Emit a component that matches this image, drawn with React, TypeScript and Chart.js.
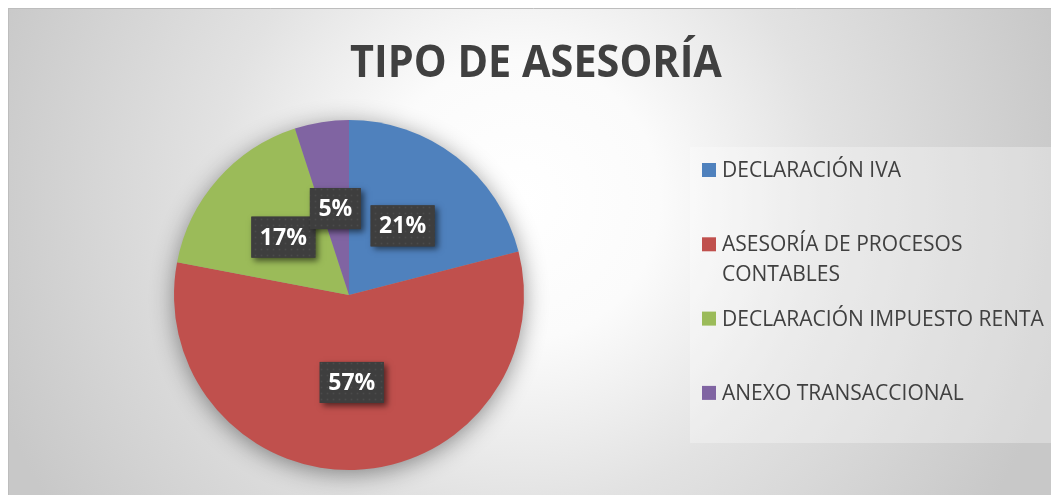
import React, { useEffect, useRef } from "react";
import { Chart, registerables } from "chart.js";

Chart.register(...registerables);

const chartTitle = "TIPO DE ASESORÍA";
const categories = [
  "DECLARACIÓN IVA",
  "ASESORÍA DE PROCESOS CONTABLES",
  "DECLARACIÓN IMPUESTO RENTA",
  "ANEXO TRANSACCIONAL",
];
const percentages = [21, 57, 17, 5];
const sliceColors = ["#4F81BD", "#C0504D", "#9BBB59", "#8064A2"];

const W = 1051;
const H = 487;
const FONT = "'Open Sans', 'Noto Sans', sans-serif";

function makeDotPattern(ctx: CanvasRenderingContext2D) {
  const c = document.createElement("canvas");
  c.width = 6;
  c.height = 6;
  const g = c.getContext("2d")!;
  g.fillStyle = "#3e3e3e";
  g.fillRect(0, 0, 6, 6);
  g.fillStyle = "#4b4b4b";
  g.beginPath();
  g.arc(1.5, 1.5, 1, 0, Math.PI * 2);
  g.fill();
  return ctx.createPattern(c, "repeat");
}

const backgroundPlugin = {
  id: "bgPlugin",
  beforeDraw(chart: any) {
    const { ctx, width, height } = chart;
    ctx.save();
    const g = ctx.createRadialGradient(512, 192, 0, 512, 192, 560);
    g.addColorStop(0, "#ffffff");
    g.addColorStop(0.25, "#fbfbfb");
    g.addColorStop(0.55, "#e2e2e2");
    g.addColorStop(1, "#c8c8c8");
    ctx.fillStyle = g;
    ctx.fillRect(0, 0, width, height);
    ctx.strokeStyle = "#bdbdbd";
    ctx.lineWidth = 1;
    ctx.beginPath();
    ctx.moveTo(0, 0.5);
    ctx.lineTo(width, 0.5);
    ctx.moveTo(0.5, 0);
    ctx.lineTo(0.5, height);
    ctx.stroke();
    // chart title (slightly condensed to match the narrow original face)
    ctx.fillStyle = "#404040";
    ctx.font = `bold 45px ${FONT}`;
    ctx.textAlign = "center";
    ctx.textBaseline = "alphabetic";
    ctx.translate(528, 69);
    ctx.scale(0.92, 1);
    ctx.fillText(chartTitle, 0, 0);
    ctx.restore();
  },
};

const pieShadowPlugin = {
  id: "pieShadow",
  beforeDatasetsDraw(chart: any) {
    const meta = chart.getDatasetMeta(0);
    const arc = meta.data[0];
    if (!arc) return;
    const { x, y, outerRadius } = arc.getProps(["x", "y", "outerRadius"], true);
    const ctx = chart.ctx;
    ctx.save();
    ctx.shadowColor = "rgba(0,0,0,0.45)";
    ctx.shadowBlur = 24;
    ctx.shadowOffsetX = 0;
    ctx.shadowOffsetY = 4;
    ctx.fillStyle = "#999999";
    ctx.beginPath();
    ctx.arc(x, y, outerRadius - 1, 0, Math.PI * 2);
    ctx.fill();
    ctx.restore();
  },
};

const dataLabelPlugin = {
  id: "dataLabels",
  afterDatasetsDraw(chart: any) {
    const ctx = chart.ctx as CanvasRenderingContext2D;
    const ds = chart.data.datasets[0];
    const values = ds.data as number[];
    const total = values.reduce((a, b) => a + b, 0);
    const meta = chart.getDatasetMeta(0);
    const pattern = makeDotPattern(ctx);
    ctx.save();
    ctx.font = `bold 23px ${FONT}`;
    meta.data.forEach((arc: any, i: number) => {
      const pos = arc.tooltipPosition(true);
      const text = Math.round((values[i] / total) * 100) + "%";
      const tw = ctx.measureText(text).width;
      const bw = tw + 17;
      const bh = 41;
      const bx = pos.x - bw / 2;
      const by = pos.y - bh / 2;
      ctx.save();
      ctx.shadowColor = "rgba(0,0,0,0.55)";
      ctx.shadowBlur = 6;
      ctx.shadowOffsetX = 3;
      ctx.shadowOffsetY = 3;
      ctx.fillStyle = "#3e3e3e";
      ctx.fillRect(bx, by, bw, bh);
      ctx.restore();
      ctx.fillStyle = pattern || "#3e3e3e";
      ctx.fillRect(bx, by, bw, bh);
      ctx.fillStyle = "#ffffff";
      ctx.textAlign = "center";
      ctx.textBaseline = "middle";
      ctx.fillText(text, pos.x, pos.y + 1);
    });
    ctx.restore();
  },
};

function wrapText(ctx: CanvasRenderingContext2D, text: string, maxW: number) {
  const words = text.split(" ");
  const lines: string[] = [];
  let cur = "";
  words.forEach((w) => {
    const test = cur ? cur + " " + w : w;
    if (ctx.measureText(test).width > maxW && cur) {
      lines.push(cur);
      cur = w;
    } else {
      cur = test;
    }
  });
  if (cur) lines.push(cur);
  return lines;
}

const legendPlugin = {
  id: "customLegend",
  afterDraw(chart: any) {
    const ctx = chart.ctx as CanvasRenderingContext2D;
    const labels = chart.data.labels as string[];
    const colors = chart.data.datasets[0].backgroundColor as string[];
    const boxX = 682;
    const boxY = 139;
    const boxW = 361;
    const boxH = 296;
    ctx.save();
    ctx.fillStyle = "rgba(255,255,255,0.3)";
    ctx.fillRect(boxX, boxY, boxW, boxH);
    ctx.font = `21px ${FONT}`;
    ctx.textAlign = "left";
    ctx.textBaseline = "middle";
    const textX = 714;
    const maxW = boxX + boxW - textX;
    labels.forEach((lab, i) => {
      const cy = 162 + i * 74.3;
      ctx.fillStyle = colors[i];
      ctx.fillRect(694, cy - 7, 14, 14);
      ctx.fillStyle = "#404040";
      const lines = wrapText(ctx, lab, maxW);
      lines.forEach((ln, j) => {
        ctx.fillText(ln, textX, cy + j * 30 + 1);
      });
    });
    ctx.restore();
  },
};

export default function App() {
  const canvasRef = useRef<HTMLCanvasElement | null>(null);

  useEffect(() => {
    document.body.style.overflow = "hidden";
    document.documentElement.style.overflow = "hidden";
    const canvas = canvasRef.current;
    if (!canvas) return;
    const chart = new Chart(canvas, {
      type: "pie",
      data: {
        labels: categories,
        datasets: [
          {
            data: percentages,
            backgroundColor: sliceColors,
            borderWidth: 0,
            hoverOffset: 0,
            hoverBorderWidth: 0,
          },
        ],
      },
      options: {
        responsive: false,
        animation: false,
        events: [],
        layout: {
          padding: { left: 166, right: W - 516, top: 112, bottom: 25 },
        },
        plugins: {
          legend: { display: false },
          tooltip: { enabled: false },
          title: { display: false },
        },
      },
      plugins: [backgroundPlugin, pieShadowPlugin, dataLabelPlugin, legendPlugin],
    });
    return () => chart.destroy();
  }, []);

  return (
    <div style={{ width: W, height: H }}>
      <canvas ref={canvasRef} width={W} height={H} style={{ display: "block", width: W, height: H }} />
    </div>
  );
}
